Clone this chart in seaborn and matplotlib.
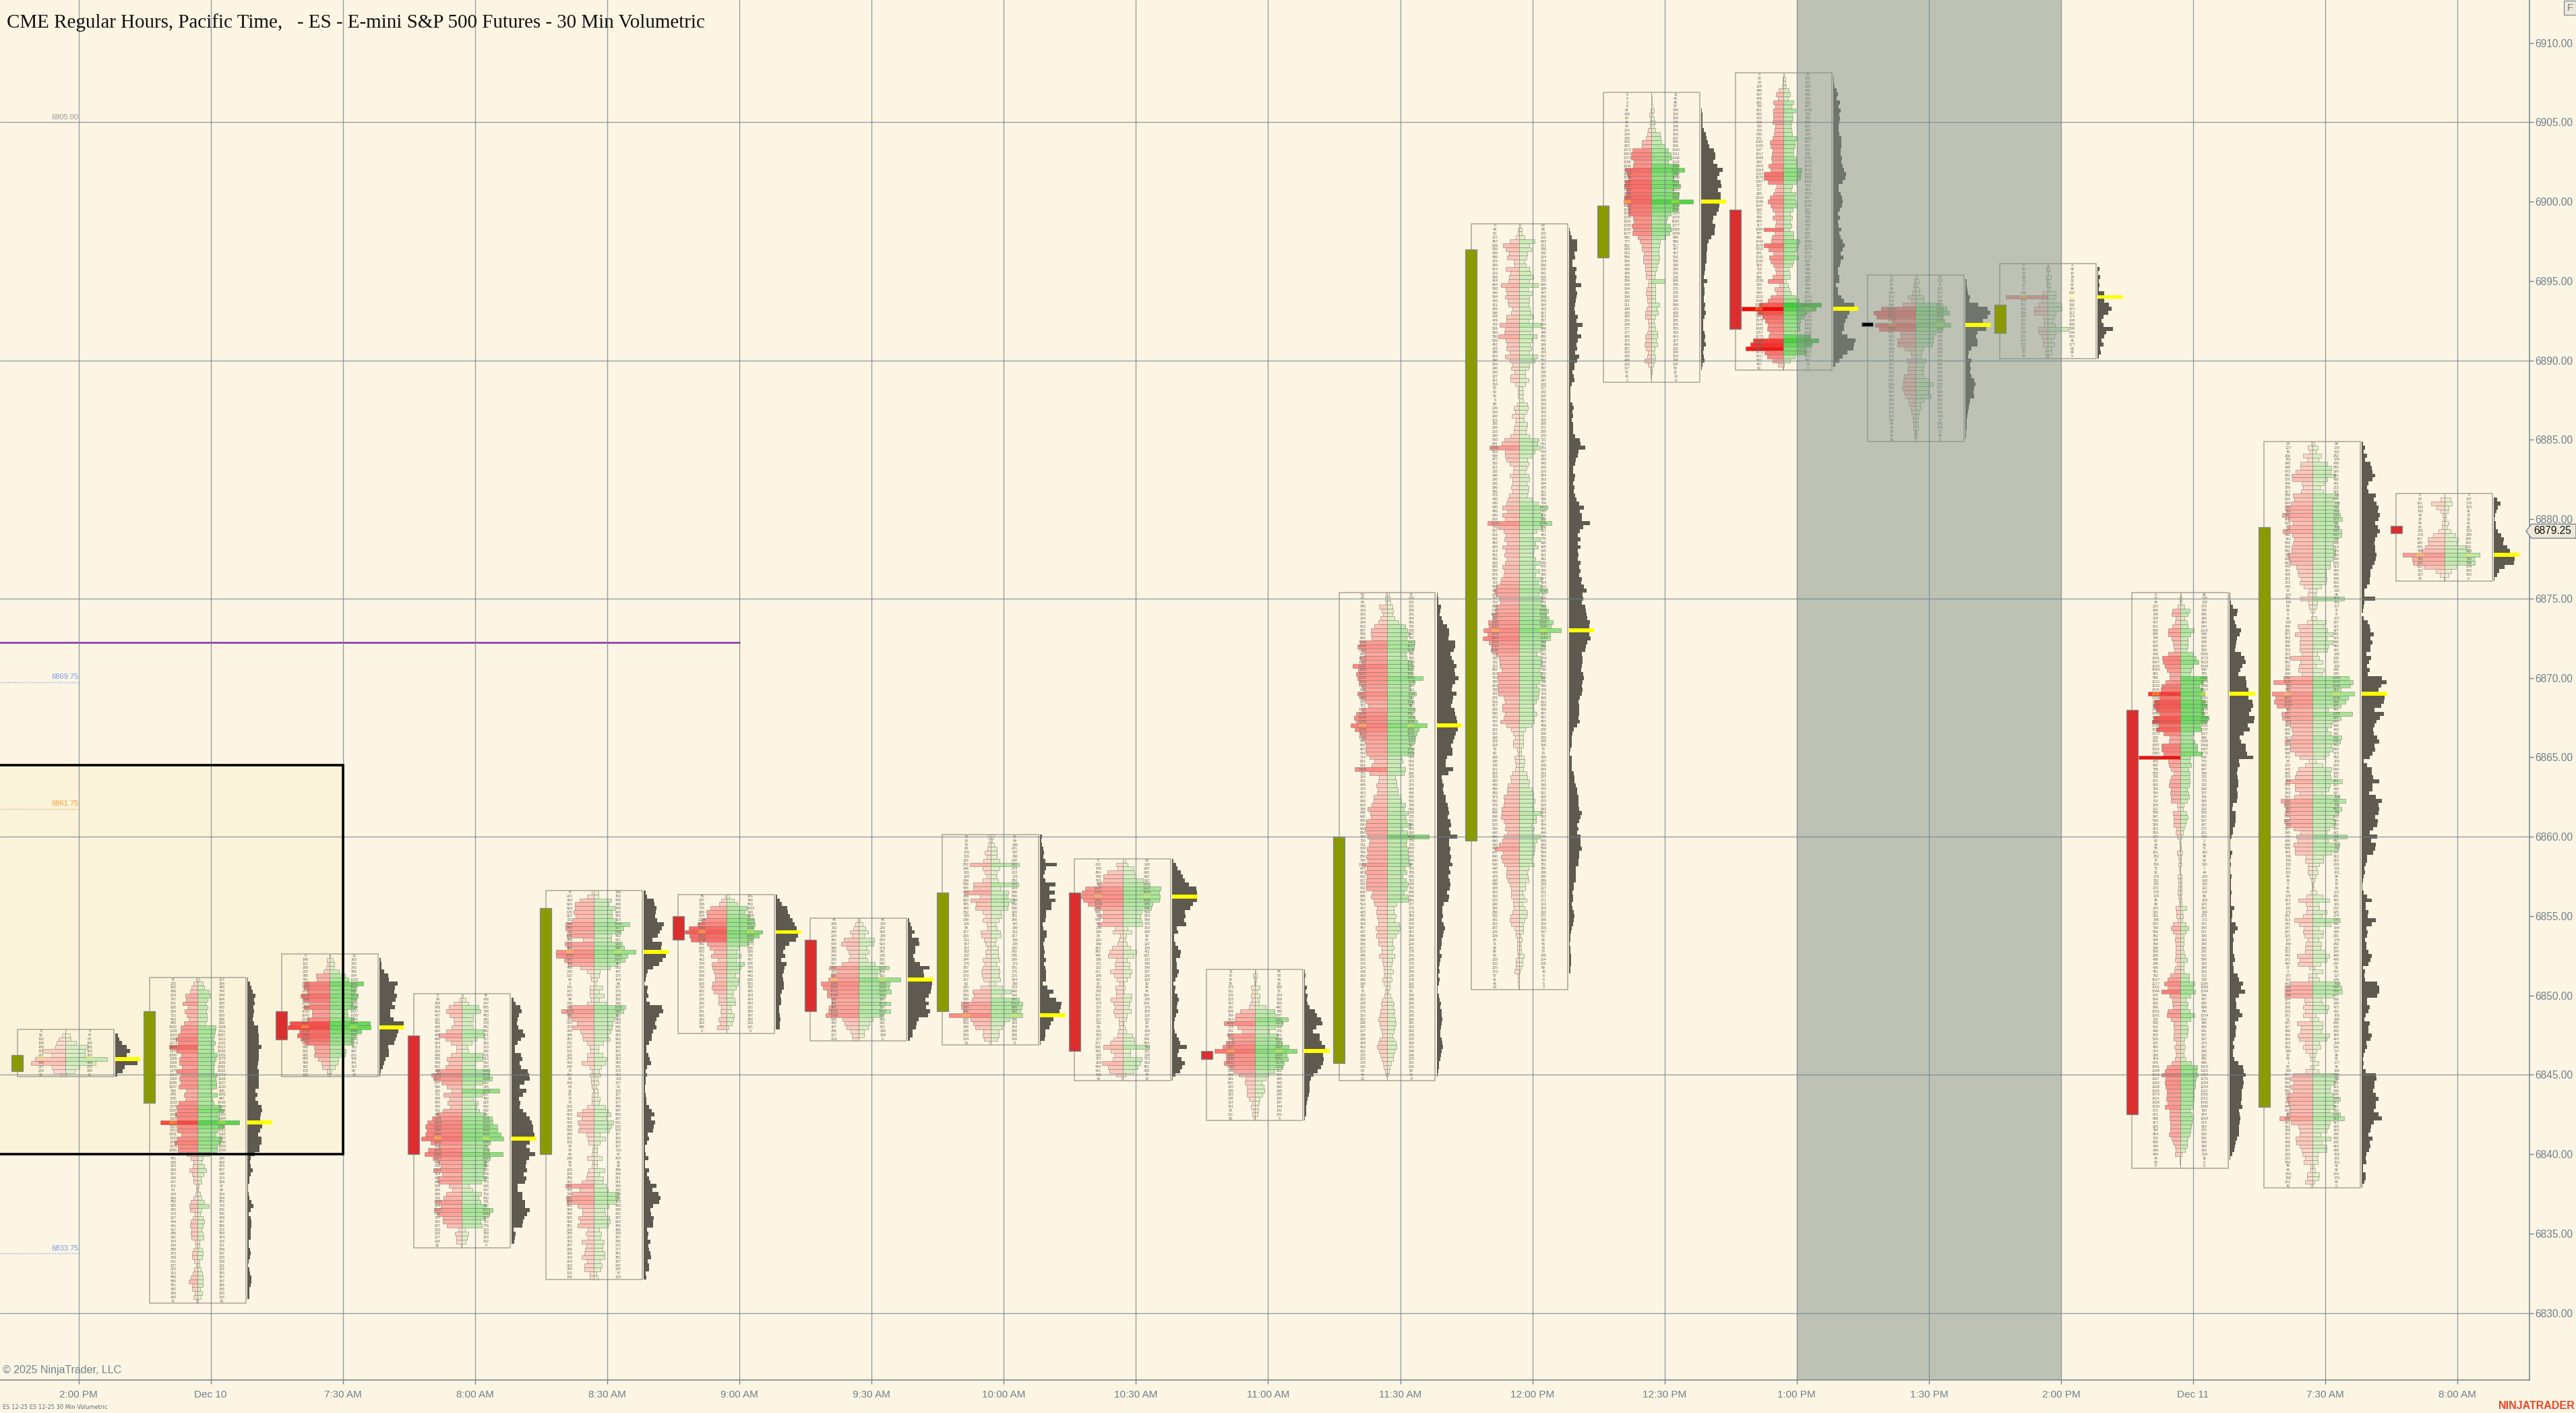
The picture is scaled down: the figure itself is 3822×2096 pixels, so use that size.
import matplotlib
matplotlib.use("Agg")
import matplotlib.pyplot as plt
from matplotlib.patches import Rectangle, Polygon
import seaborn as sns

# ---- chart values -------------------------------------------------------
TIME_LABELS = ['2:00 PM','Dec 10','7:30 AM','8:00 AM','8:30 AM','9:00 AM','9:30 AM','10:00 AM','10:30 AM',
               '11:00 AM','11:30 AM','12:00 PM','12:30 PM','1:00 PM','1:30 PM','2:00 PM','Dec 11','7:30 AM','8:00 AM']
PRICE_TICKS = [6830,6835,6840,6845,6850,6855,6860,6865,6870,6875,6880,6885,6890,6895,6900,6905,6910]
PRICE_GRID = [6830,6845,6860,6875,6890,6905]
TOP_PRICE = [6847.75,6851.0,6852.5,6850.0,6856.5,6856.25,6854.75,6860.0,6858.5,6851.5,6875.25,6898.5,6906.75,6908.0,6895.25,6896.0,6875.25,6884.75,6881.5]
CANDLE_OPEN  = [6845.25,6843.25,6849.0,6847.5,6840.0,6855.0,6853.5,6849.0,6856.5,6846.5,6845.75,6859.75,6896.5,6899.5,6892.4,6891.75,6868.0,6843.0,6879.6]
CANDLE_CLOSE = [6846.25,6849.0,6847.25,6840.0,6855.5,6853.5,6849.0,6856.5,6846.5,6846.0,6860.0,6897.0,6899.75,6892.0,6892.15,6893.5,6842.5,6879.5,6879.1]
LAST_PRICE = 6879.25
PURPLE_LEVEL = 6872.25
LEVELS = [6905.0,6869.75,6861.75,6833.75]
LEVEL_LABELS = ['6905.00','6869.75','6861.75','6833.75']

BID_00=[0,52,110,138,165,367,221,488,558,217,200,92]
ASK_00=[5,74,83,180,362,322,315,677,488,232,150,21]
BID_01=[75,272,382,466,804,747,971,625,818,712,583,865,1092,1100,1281,1388,1271,1844,1379,1056,1166,1190,1001,1375,1113,1182,1099,1207,760,885,805,1233,1375,1320,1431,1329,2424,1321,1311,1051,1315,1472,1276,1280,704,451,288,313,526,367,286,247,110,84,144,260,450,525,480,170,327,444,481,407,436,391,164,143,258,373,343,201,107,225,313,459,555,351,342,166,260,75]
ASK_01=[127,344,445,744,840,664,525,665,581,619,588,519,1169,1111,1097,1011,1142,1013,1039,1251,1175,1100,1052,1033,1273,1189,1227,1233,905,1262,947,1043,1544,1717,1322,1384,2706,1706,1312,1182,1557,1496,1283,1256,785,334,260,423,567,388,214,258,67,58,164,254,453,753,269,186,343,447,356,272,354,404,126,121,306,337,303,126,112,218,315,357,347,355,185,283,215,43]
BID_02=[0,148,112,195,372,795,741,1516,1510,1323,1713,1546,1174,1494,1010,1047,1316,2313,2436,1779,1909,1715,1471,930,882,902,658,460,422,170,120]
ASK_02=[12,182,283,243,558,884,1103,1957,1524,1467,1623,1521,1332,1524,1027,1035,1400,2344,2373,1842,1510,1382,1374,785,947,881,506,461,313,94,13]
BID_03=[0,99,318,508,614,487,321,291,406,610,900,640,424,213,220,436,586,508,652,988,1193,1127,807,586,416,711,488,554,460,751,989,1168,1353,1429,1380,1441,1606,1232,919,1325,1456,1157,945,842,1114,763,967,944,519,384,606,716,1034,824,1100,960,757,762,587,153,283,227,218,32]
ASK_03=[44,148,247,655,736,453,440,379,452,852,871,577,392,213,246,801,813,532,533,1082,1075,1189,812,476,1478,812,452,618,582,692,922,1193,1223,1394,1408,1521,1642,1094,979,1042,1614,1097,944,948,872,835,955,773,286,407,752,650,731,942,1223,1080,919,727,776,123,259,216,162,0]
BID_04=[75,221,480,624,623,670,612,721,946,945,831,885,358,970,865,1252,1253,978,858,459,230,122,93,9,141,147,145,94,236,830,1072,842,721,570,722,444,396,357,232,147,110,220,234,402,148,73,151,90,106,84,32,81,75,75,223,380,563,412,533,469,510,245,211,192,38,48,86,238,58,74,183,225,256,410,941,475,740,911,904,551,393,388,525,443,551,216,265,210,402,257,290,326,403,224,313,330,131,152]
ASK_04=[136,153,566,488,709,600,591,718,1164,967,885,562,571,915,985,1375,1091,1007,760,533,197,175,104,64,287,179,328,158,388,1035,959,763,646,618,580,540,463,522,309,143,151,284,413,365,241,178,215,115,137,88,120,127,180,177,359,447,553,387,631,570,503,197,363,182,107,113,97,254,99,92,356,158,311,281,389,463,806,817,713,469,339,362,497,523,455,160,243,187,330,271,277,351,351,197,247,220,75,133]
BID_05=[35,247,336,775,988,964,1224,1425,1841,2066,1819,1758,942,828,615,741,402,704,676,633,536,547,678,718,602,377,376,380,237,291,262,382,314,446,0]
ASK_05=[161,390,563,1002,900,1158,1378,1417,1338,1795,1603,1327,1071,638,528,728,467,895,700,640,443,625,570,482,345,303,414,454,232,259,387,350,283,121,0]
BID_06=[46,106,181,296,224,491,570,399,330,284,338,567,995,719,925,1006,1268,1183,1052,1046,888,901,985,1019,1106,543,462,407,256,227,204]
ASK_06=[46,134,226,316,185,533,514,270,341,238,302,550,1023,734,621,1404,1060,1031,1103,919,746,1073,770,1067,827,483,381,331,188,189,0]
BID_07=[70,30,70,99,176,119,222,652,246,191,128,244,548,535,823,336,620,455,489,252,165,238,116,98,317,283,211,167,107,162,132,244,176,257,284,270,217,62,316,576,530,589,919,928,866,1314,633,553,488,236,250,204,33]
ASK_07=[87,54,106,201,197,196,288,902,273,203,175,250,884,304,548,530,758,560,538,320,351,256,147,196,311,317,186,135,230,242,245,289,171,251,275,270,304,160,373,648,340,891,1013,988,932,1001,596,433,363,258,258,208,0]
BID_08=[0,202,156,454,586,583,733,1124,1211,1244,1181,1048,845,580,723,580,742,239,288,84,120,166,310,392,438,198,231,222,371,266,181,87,216,192,203,363,278,237,267,237,117,118,93,131,152,277,371,580,360,228,297,628,444,401,188,43]
ASK_08=[93,143,320,343,392,612,801,1122,1084,1107,1092,885,845,564,524,546,576,153,268,99,67,122,234,411,323,132,195,190,257,228,120,30,64,46,260,245,206,176,253,118,102,29,58,109,287,336,354,790,221,228,572,518,451,335,79,10]
BID_09=[11,75,36,35,173,112,176,123,197,242,605,784,814,1259,723,532,1107,938,1176,1317,1639,1193,1194,1252,1043,888,656,391,408,315,335,322,235,114,151,93,111,58]
ASK_09=[35,83,46,34,190,72,204,156,180,440,799,837,1361,1123,816,576,911,1030,1112,1367,1707,1297,1341,1173,1121,812,549,435,268,349,385,298,190,167,104,141,101,5]
BID_10=[53,80,60,340,219,150,284,344,510,647,650,620,1088,1208,1034,890,1078,1033,1381,1162,1254,1203,1143,1029,948,1212,1059,882,761,1025,1246,1348,1243,1476,1309,1110,1028,895,850,867,834,714,521,616,1308,721,324,361,445,374,413,547,544,623,788,686,642,850,840,900,850,793,720,741,808,789,850,790,1021,813,863,810,837,845,842,608,645,542,514,407,425,416,346,360,457,387,448,346,360,227,216,340,202,176,124,136,103,186,140,55,73,120,182,240,218,275,310,352,288,260,227,196,305,344,402,321,270,215,176,132,84,46,12]
ASK_10=[72,100,131,231,255,231,294,456,732,830,902,797,1127,1077,1045,765,785,1020,1043,1021,1021,1445,1106,915,916,1168,968,1049,987,1128,1001,1106,1240,1601,1292,1202,1153,1127,950,1044,1052,575,618,516,724,680,315,371,376,426,446,535,560,739,668,838,725,801,956,625,820,1690,778,770,834,833,870,880,941,710,785,635,752,834,782,690,834,861,377,275,274,353,288,479,529,467,353,229,220,281,178,291,229,178,126,258,126,178,116,105,66,140,196,260,233,301,285,330,341,310,262,220,278,360,371,298,246,233,151,118,90,38,9]
BID_11=[0,49,60,127,357,609,506,368,456,215,168,514,323,368,414,684,500,448,534,419,411,258,296,478,476,718,526,560,780,509,451,470,345,524,346,254,296,185,327,321,154,63,60,50,6,90,206,154,280,121,150,205,215,339,543,641,1099,523,536,477,352,211,232,348,245,262,296,256,372,435,480,635,456,636,516,1170,778,587,513,542,452,625,513,561,459,528,626,560,573,682,715,850,930,845,761,710,866,880,1003,968,1142,1120,1322,1178,1360,1132,1019,1058,874,760,732,722,652,810,793,788,815,795,781,575,519,617,625,530,570,707,476,301,222,148,216,216,79,60,168,146,138,151,253,318,305,436,455,453,573,560,578,662,658,668,585,515,536,460,590,640,760,914,607,690,640,543,448,476,478,438,348,308,310,310,223,240,192,256,332,362,313,187,126,129,84,71,89,86,60,120,132,120,178,57,41,46,20]
ASK_11=[60,86,110,202,583,371,436,292,284,204,258,370,431,516,370,689,329,487,368,375,344,402,417,521,357,824,486,390,650,482,389,441,384,667,567,367,357,235,235,347,220,117,143,120,146,303,328,265,174,185,305,271,255,370,721,661,781,579,487,294,340,280,219,354,383,264,345,311,310,466,709,1057,765,855,930,1209,856,657,491,778,598,695,545,521,591,780,570,760,590,817,694,824,1050,727,860,792,980,1066,1005,1100,1260,1180,1551,1140,1140,944,943,810,643,804,826,790,745,830,925,758,650,758,724,695,613,529,560,657,557,557,459,228,158,153,140,156,70,70,169,197,165,154,281,287,371,340,473,521,525,573,525,542,824,632,627,454,551,489,770,658,584,569,558,504,458,551,350,296,330,359,220,227,131,177,271,122,203,310,272,186,154,155,157,50,92,58,74,70,180,114,116,69,16,8,8,5,3]
BID_12=[0,0,0,9,61,145,80,86,84,221,294,365,663,653,1273,1367,1373,1186,1248,1773,1654,1540,1788,1822,1700,1746,1836,1868,1600,1546,1563,1240,1201,1330,1235,1277,942,777,652,628,513,568,544,408,434,386,358,194,234,334,391,300,282,211,349,429,400,216,188,177,277,429,372,454,357,218,305,446,226,117,57,48,2]
ASK_12=[11,40,45,87,159,103,154,246,180,254,606,637,666,903,1140,1311,1346,1129,1808,2220,1750,1506,1831,1967,1512,1859,1802,2828,1829,1762,1314,1075,1000,1277,1360,1208,940,599,517,487,497,531,509,388,334,283,200,906,259,272,278,283,256,559,373,429,284,165,198,253,419,414,327,400,232,184,253,198,119,58,32,10,0]
BID_13=[0,67,63,129,449,667,478,891,738,911,902,875,966,730,754,806,972,1182,1140,967,1017,1086,984,1303,1094,1707,1679,1357,622,717,869,1202,1349,1147,934,721,938,654,717,1680,787,986,1043,1676,1310,861,1241,1130,915,718,670,920,1338,363,753,594,1120,1341,2090,3606,2241,1817,1575,1347,1432,1157,1273,2633,2859,3264,1672,1417,953,457,60]
ASK_13=[19,152,142,226,442,556,389,869,687,1049,735,789,670,620,699,724,1060,967,963,876,836,1102,1073,1087,1576,1520,1453,1065,723,614,1003,967,1047,1141,822,540,738,582,706,477,836,877,1388,1242,1074,964,1273,826,746,436,489,585,193,404,489,651,1034,1340,3226,2786,1928,1715,1459,1350,1402,1005,2291,3024,2437,1821,1940,970,583,61,0]
BID_14=[0,63,87,90,150,314,183,568,1480,1772,1667,1003,1713,1549,668,635,793,795,469,219,182,378,287,359,332,487,539,526,582,504,442,299,308,204,182,121,136,86,93,35,82,19]
ASK_14=[36,120,75,163,157,324,336,1072,1309,1418,1136,1226,1485,1122,838,738,738,716,330,249,206,421,336,343,299,319,549,730,567,526,648,340,191,208,140,114,80,106,109,37,35,0]
BID_15=[0,50,14,54,29,37,9,138,1107,175,257,358,358,140,107,122,257,236,171,108,125,58,83,49]
ASK_15=[3,45,15,79,32,62,68,202,212,160,340,373,212,174,109,188,538,209,163,91,177,92,90,5]
BID_16=[0,13,46,223,648,708,378,407,612,950,945,706,607,508,491,966,1441,1407,1243,1064,861,858,1212,1533,1575,2636,1708,2124,2176,1990,1698,2167,2266,1738,1972,1373,880,892,1497,1522,1382,3418,963,942,738,553,750,871,920,755,794,747,752,264,212,568,547,543,526,312,353,241,80,34,55,261,152,72,154,72,52,179,151,155,170,178,129,86,98,376,332,301,196,570,738,559,352,428,368,340,360,388,436,246,426,451,782,1017,1277,1001,1546,876,654,618,586,1051,1101,732,509,515,496,502,519,287,455,374,300,414,676,1081,1269,1518,1167,1262,1208,1104,1073,1114,1026,1220,871,871,856,817,825,792,904,702,595,444,388,394,48,25,5]
ASK_16=[91,119,132,375,799,640,328,594,634,1120,848,639,639,623,509,1080,1273,1523,1044,908,788,2151,1870,1588,1817,2001,1691,2030,2155,1924,1927,2328,2164,1631,1737,1147,986,1199,1406,1407,1772,848,770,900,687,799,715,775,732,600,707,725,585,316,242,503,610,507,427,272,221,109,2,59,71,182,98,62,110,7,44,128,143,116,122,132,86,129,120,503,198,225,171,472,685,471,290,319,295,266,291,421,568,318,299,302,713,738,1154,1066,1244,846,457,630,599,798,1204,876,495,656,641,547,347,274,387,290,320,452,906,1419,1322,1454,1276,1254,1254,1113,1100,1113,1042,1080,788,974,1054,973,914,870,816,616,549,548,418,134,32,8,0]
BID_17=[24,127,76,268,151,348,349,473,591,578,298,259,317,558,525,619,791,761,865,687,563,711,847,582,511,569,600,592,708,685,643,470,422,408,321,373,240,97,124,340,108,84,59,3,32,143,426,362,507,353,368,358,373,312,643,351,378,398,300,840,1120,751,730,1157,1067,1104,1018,741,887,878,774,640,600,555,612,785,644,640,498,373,84,203,405,455,503,768,500,503,363,520,916,818,767,787,654,810,783,537,345,470,426,548,509,493,190,199,133,111,131,68,29,4,19,56,178,413,197,141,171,262,513,381,247,267,225,127,198,212,212,443,372,415,87,3,107,112,643,796,789,798,224,203,269,203,261,51,437,327,340,416,384,218,263,188,70,56,1,52,180,567,646,533,640,550,707,730,700,649,633,737,955,621,410,369,372,472,468,365,297,283,202,253,45,46,153,159,201,46]
ASK_17=[64,170,110,252,179,439,555,529,661,435,341,215,321,721,594,759,740,760,809,873,706,766,842,847,720,589,619,670,643,599,509,513,394,405,409,393,259,119,98,914,151,117,72,9,127,387,321,427,591,423,596,459,431,140,205,303,106,340,280,1050,1170,1090,819,1209,1048,959,820,461,1159,820,594,549,443,542,842,808,560,594,473,350,105,294,544,505,541,861,507,480,307,794,961,755,852,745,603,664,655,503,421,995,452,782,742,543,318,318,209,119,161,94,72,16,44,121,291,491,181,202,425,274,806,540,184,309,291,179,260,247,384,498,408,231,56,291,117,209,793,844,855,607,268,299,473,432,100,180,290,300,260,494,424,194,240,117,86,61,177,48,186,750,712,658,521,509,600,805,616,651,503,803,916,517,470,424,240,540,282,418,408,153,141,153,41,82,204,179,60,0]
BID_18=[0,88,321,192,100,44,25,55,67,142,279,407,388,479,555,1018,782,761,510,212,107,15]
ASK_18=[2,147,179,103,91,37,32,96,61,153,259,339,304,509,613,858,730,739,279,163,105,0]

BIDS=[BID_00,BID_01,BID_02,BID_03,BID_04,BID_05,BID_06,BID_07,BID_08,BID_09,BID_10,BID_11,BID_12,BID_13,BID_14,BID_15,BID_16,BID_17,BID_18]
ASKS=[ASK_00,ASK_01,ASK_02,ASK_03,ASK_04,ASK_05,ASK_06,ASK_07,ASK_08,ASK_09,ASK_10,ASK_11,ASK_12,ASK_13,ASK_14,ASK_15,ASK_16,ASK_17,ASK_18]

# ---- style ----------------------------------------------------------------
BG = '#FDF5E3'
GRID = '#71838F'
TXT = '#6E808C'
sns.set_theme(style='white', rc={'axes.facecolor': BG, 'figure.facecolor': BG})
plt.rcParams['font.family'] = ['Liberation Sans', 'DejaVu Sans']

W, H = 3823, 2096
AX_R, AX_B = 3753, 2047
SLOT = 196.1
X0 = 116.5
PX_PT = 23.55
Y_6905 = 181.5

fig = plt.figure(figsize=(W/100, H/100), dpi=100)
ax = fig.add_axes([0, 1-AX_B/H, AX_R/W, AX_B/H])
ax.set_xlim(-X0/SLOT, (AX_R-X0)/SLOT)
ax.set_ylim(6905-(AX_B-Y_6905)/PX_PT, 6905+Y_6905/PX_PT)

px = lambda p: p/SLOT  # pixels to slot units

ax.set_xticks(range(len(TIME_LABELS)))
ax.set_xticklabels(TIME_LABELS)
ax.set_yticks(PRICE_TICKS)
ax.set_yticklabels([f'{v:.2f}' for v in PRICE_TICKS])
ax.yaxis.tick_right()
ax.tick_params(axis='x', length=4, width=1, color=GRID, labelcolor=TXT, labelsize=11, pad=7, bottom=True)
ax.tick_params(axis='y', length=4, width=1, color=GRID, labelcolor=TXT, labelsize=11.2, pad=2, right=True)
for s in ['top', 'left']:
    ax.spines[s].set_visible(False)
for s in ['right', 'bottom']:
    ax.spines[s].set_color(GRID)
    ax.spines[s].set_linewidth(1.1)
ax.set_axisbelow(False)
ax.grid(True, axis='x', color=GRID, lw=1.0, alpha=0.75)
ax.hlines(PRICE_GRID, *ax.get_xlim(), color=GRID, lw=1.0, alpha=0.75, zorder=2.5)

RED_RAMP = sns.blend_palette(['#FFE6D8', '#FFA69E', '#FF6B66', '#FF3530', '#FF0000'], n_colors=256)
GREEN_RAMP = sns.blend_palette(['#EEF2D4', '#B5E8A5', '#80DE70', '#55D84A', '#22CC22'], n_colors=256)
ramp = lambda pal, v: pal[min(255, int(255*v/3600))]

# selection rectangle
ax.add_patch(Rectangle((ax.get_xlim()[0]-0.1, 6840), 2+(-ax.get_xlim()[0])+0.1, 24.5,
                       facecolor='#FBF3D9', edgecolor='none', zorder=0.5))
ax.add_patch(Rectangle((ax.get_xlim()[0]-0.1, 6840), 2+(-ax.get_xlim()[0])+0.1, 24.5,
                       facecolor='none', edgecolor='black', lw=2.6, zorder=2.7))

# shaded session
ax.axvspan(13, 15, facecolor='#7F9189', alpha=0.5, edgecolor='none', zorder=2.2)

ROW = 0.25
for i, (bid, ask) in enumerate(zip(BIDS, ASKS)):
    n = min(len(bid), len(ask))
    bid, ask = bid[:n], ask[:n]
    prices = [TOP_PRICE[i]-ROW*k for k in range(n)]
    centre = i + px(-19.5)
    left = i + px(-91)
    right = i + px(52)
    mx = max(max(bid), max(ask))
    ax.barh(prices, [-px(62)*v/mx for v in bid], left=centre, height=ROW,
            color=[ramp(RED_RAMP, v) for v in bid], edgecolor=(0.45, 0.45, 0.4, 0.5), linewidth=0.7, zorder=2.0)
    ax.barh(prices, [px(62)*v/mx for v in ask], left=centre, height=ROW,
            color=[ramp(GREEN_RAMP, v) for v in ask], edgecolor=(0.45, 0.45, 0.4, 0.5), linewidth=0.7, zorder=2.0)
    # volume profile
    tot = [b+a for b, a in zip(bid, ask)]
    mt = max(tot)
    poc = tot.index(mt)
    ax.barh(prices, [px(37.6)*v/mt for v in tot], left=i+px(54), height=ROW,
            color='#5E5A50', linewidth=0, zorder=2.0)
    ax.barh([prices[poc]], [px(37.6)], left=i+px(54), height=ROW, color='#FFFF00', linewidth=0, zorder=2.8)
    # box
    ax.add_patch(Rectangle((left, prices[-1]-ROW/2), right-left, prices[0]-prices[-1]+ROW,
                           facecolor='none', edgecolor='#A8A69A', lw=1.1, zorder=2.05))
    # volume numbers
    for k, p in enumerate(prices):
        c = '#FFF01E' if k == poc else '#66665E'
        ax.text(centre-px(36), p, str(bid[k]), fontsize=3.9, color=c, ha='center', va='center', zorder=2.1)
        ax.text(centre+px(36), p, str(ask[k]), fontsize=3.9, color=c, ha='center', va='center', zorder=2.1)
    # candle
    o, cl = CANDLE_OPEN[i], CANDLE_CLOSE[i]
    if i == 14:
        col = '#000000'
    else:
        col = '#8A9A00' if cl >= o else '#DC2E2E'
    ax.bar([left], [abs(cl-o)], bottom=min(o, cl), width=px(17), color=col, edgecolor='#7C8C90', linewidth=0.9, zorder=2.9)

# drawn levels
sns.lineplot(x=[ax.get_xlim()[0], 5], y=[PURPLE_LEVEL, PURPLE_LEVEL], color='#8E44AD', lw=2.0, ax=ax, legend=False, zorder=1.5)
LEVEL_COLORS = ['#9A9A9A', '#6F9CF0', '#F0A040', '#6F9CF0']
for val, lab, c in zip(LEVELS, LEVEL_LABELS, LEVEL_COLORS):
    if lab != '6905.00':
        sns.lineplot(x=[ax.get_xlim()[0], 0], y=[val, val], color=c, lw=1.0, ls=':', ax=ax, legend=False, zorder=1.5)
    ax.text(0, val+0.12, lab, fontsize=8, color=c, ha='right', va='bottom', zorder=1.6)

# page furniture
fx = lambda x: x/W
fy = lambda y: 1-y/H
fig.text(fx(10), fy(34), 'CME Regular Hours, Pacific Time,   - ES - E-mini S&P 500 Futures - 30 Min Volumetric',
         family='Liberation Serif', fontsize=20.9, color='#111111', ha='left', va='center')
fig.text(fx(4), fy(2032), '\u00a9 2025 NinjaTrader, LLC', fontsize=11.5, color='#6F8590', ha='left', va='center')
fig.text(fx(4), fy(2087), 'ES 12-25 ES 12-25 30 Min Volumetric', family='DejaVu Sans', fontsize=6, color='#5F6F78', ha='left', va='center')
fig.text(fx(3821), fy(2086), 'NINJATRADER', fontsize=11.5, fontweight='bold', color='#E8452C', ha='right', va='center')

fig.add_artist(Rectangle((fx(3804), fy(22)), 18/W, 21/H, transform=fig.transFigure,
                         facecolor='#EDE8D8', edgecolor=GRID, lw=0.8))
fig.text(fx(3813), fy(12), 'F', fontsize=10.5, color=TXT, ha='center', va='center')

ylast = AX_B-(LAST_PRICE-ax.get_ylim()[0])*PX_PT
poly = [(3748, ylast), (3756, ylast-10.5), (3822, ylast-10.5), (3822, ylast+10.5), (3756, ylast+10.5)]
fig.add_artist(Polygon([(fx(a), fy(b)) for a, b in poly], closed=True, transform=fig.transFigure,
                       facecolor='#EFE9D8', edgecolor=GRID, lw=1.0))
fig.text(fx(3787), fy(ylast), f'{LAST_PRICE:.2f}', fontsize=11.2, color='#111111', ha='center', va='center')

fig.savefig('out.png', dpi=100, facecolor=BG)
